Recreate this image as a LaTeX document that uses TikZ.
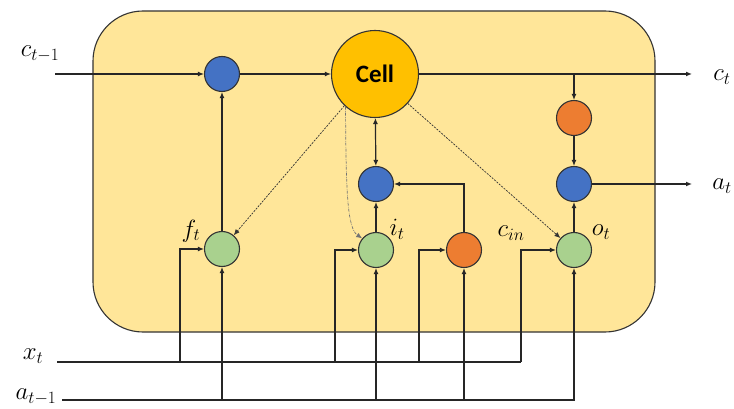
\documentclass[tikz,border=0pt]{standalone}
\usepackage{fontspec}
\usetikzlibrary{arrows.meta}
\newfontfamily\cellfont{Carlito}
\definecolor{boxfill}{HTML}{FFE699}
\definecolor{gblue}{HTML}{4472C4}
\definecolor{ggreen}{HTML}{A9D18E}
\definecolor{gorange}{HTML}{ED7D31}
\definecolor{ggold}{HTML}{FFC000}
\definecolor{edge}{HTML}{333333}
\begin{document}
\begin{tikzpicture}[x=1pt,y=-1pt,
  gate/.style={circle,draw=edge,line width=1.1pt,minimum size=35pt,inner sep=0pt},
  bgate/.style={gate,fill=gblue},
  ggate/.style={gate,fill=ggreen},
  ogate/.style={gate,fill=gorange},
  cellnode/.style={circle,draw=edge,line width=1.1pt,fill=ggold,minimum size=87pt,inner sep=0pt,font=\cellfont\bfseries\fontsize{25}{28}\selectfont},
  lbl/.style={font=\fontsize{27}{30}\selectfont},
  arr/.style={draw=black!85,line width=1.2pt,-{Latex[length=6pt,width=5pt]}},
  arrb/.style={draw=black!85,line width=1.2pt,{Latex[length=6pt,width=5pt]}-{Latex[length=6pt,width=5pt]}},
  wire/.style={draw=black!85,line width=1.2pt},
  dsh/.style={draw=black!80,line width=0.7pt,dash pattern=on 2pt off 1.2pt,-{Latex[length=6pt,width=5pt]}},
  dsh2/.style={draw=black!55,line width=0.7pt,dash pattern=on 3pt off 1.2pt on 0.6pt off 1.2pt,-{Latex[length=6pt,width=5pt]}}
]
\useasboundingbox (0,0) rectangle (734,409);
\fill[white] (0,0) rectangle (734,409);
% box
\draw[draw=edge,line width=1.1pt,fill=boxfill,rounded corners=50pt] (93,11) rectangle (655,332);
% nodes
\node[bgate] (m1) at (222,74) {};
\node[cellnode] (cell) at (375,74) {Cell};
\node[ogate] (o2) at (574,118) {};
\node[bgate] (m3) at (574,184) {};
\node[bgate] (m2) at (376,184) {};
\node[ggate] (ft) at (222,249) {};
\node[ggate] (it) at (376,250) {};
\node[ogate] (cin) at (464,250) {};
\node[ggate] (ot) at (574,250) {};
% labels
\node[lbl] (lctm1) at (40,54) {$c_{t-1}$};
\node[lbl] (lct) at (722,77) {$c_t$};
\node[lbl] (lat) at (722,186) {$a_t$};
\node[lbl] (lxt) at (33,356) {$x_t$};
\node[lbl] (latm1) at (36,397) {$a_{t-1}$};
\node[lbl] (lft) at (191,231) {$f_t$};
\node[lbl] (lit) at (397,229) {$i_t$};
\node[lbl] (lcin) at (511,233) {$c_{in}$};
\node[lbl] (lot) at (601,232) {$o_t$};
% coordinates
\coordinate (cin0) at (55,74);
\coordinate (cout) at (692,74);
\coordinate (aout) at (692,184);
\coordinate (xs) at (57,362);
\coordinate (x1) at (180,362);
\coordinate (x2) at (335,362);
\coordinate (x3) at (419,362);
\coordinate (x4) at (521,362);
\coordinate (as) at (62,400);
% connectors
\draw[arr] (cin0) -- (m1);
\draw[arr] (m1) -- (cell);
\draw[arr] (cell) -- (cout);
\draw[arr] (o2 |- cell) -- (o2);
\draw[arr] (o2) -- (m3);
\draw[arr] (ot) -- (m3);
\draw[arr] (m3) -- (aout);
\draw[arrb] (cell) -- (m2);
\draw[arr] (it) -- (m2);
\draw[arr] (cin.north) |- (m2);
\draw[arr] (ft) -- (m1);
% x_t
\draw[wire] (xs) -- (x4);
\draw[arr] (x4) |- (ot);
\draw[arr] (x1) |- (ft);
\draw[arr] (x2) |- (it);
\draw[arr] (x3) |- (cin);
% a_{t-1}
\draw[arr] (as) -| (ot);
\draw[arr] (ft |- as) -- (ft);
\draw[arr] (it |- as) -- (it);
\draw[arr] (cin |- as) -- (cin);
% dashed
\draw[dsh] (cell.226) -- (ft);
\draw[dsh2] (cell.228) .. controls (346,190) and (347,228) .. (it.140);
\draw[dsh] (cell.-42) -- (ot);
\end{tikzpicture}
\end{document}
